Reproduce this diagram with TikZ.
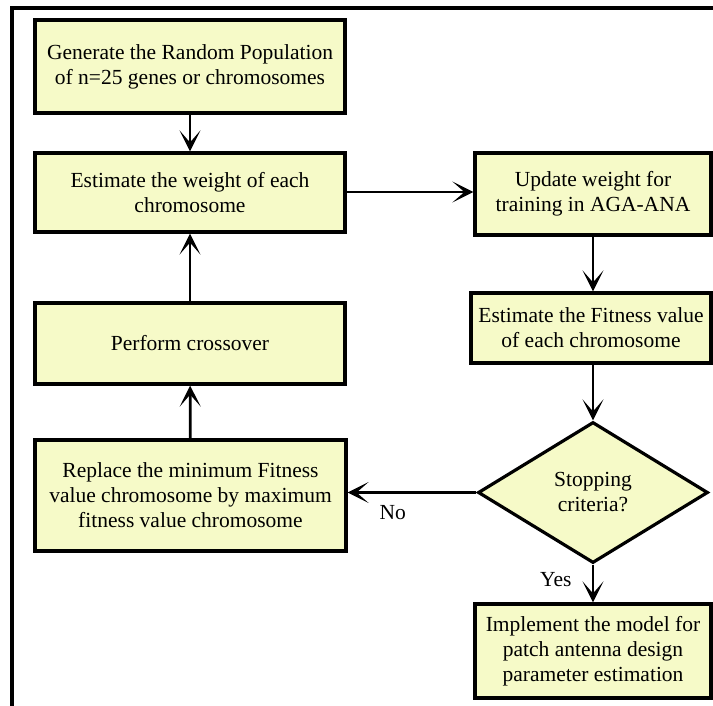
\documentclass[tikz,border=0pt]{standalone}
\usepackage{fontspec}
\setmainfont{Liberation Serif}
\usetikzlibrary{shapes.geometric,arrows.meta}
\definecolor{boxfill}{RGB}{246,250,200}

\begin{document}
\begin{tikzpicture}[x=1pt,y=-1pt,
	box/.style={draw=black,line width=3.2pt,fill=boxfill,inner sep=0pt,align=center,
		font=\fontsize{21.5}{25}\selectfont},
	decision/.style={diamond,draw=black,line width=3.2pt,fill=boxfill,inner sep=0pt,align=center,
		minimum width=230pt,minimum height=141pt,font=\fontsize{21.5}{25}\selectfont},
	arr/.style={line width=2.8pt,-{Stealth[length=21pt,width=21pt,inset=12pt]}}]
			\useasboundingbox (0,0) rectangle (713,705);
			% frame
			\draw[line width=3.2pt] (12,706) -- (12,8) -- (714,8);
			% nodes, left column
			\node[box,minimum width=310pt,minimum height=93pt] (gen) at (190,66.5)
				{Generate the Random Population\\of n=25 genes or chromosomes};
			\node[box,minimum width=310pt,minimum height=79pt] (weight) at (190,192.5)
				{Estimate the weight of each\\chromosome};
			\node[box,minimum width=310pt,minimum height=81pt] (cross) at (190,343.5)
				{Perform crossover};
			\node[box,minimum width=311pt,minimum height=111pt] (replace) at (190.5,495.5)
				{Replace the minimum Fitness\\value chromosome by maximum\\fitness value chromosome};
			% nodes, right column
			\node[box,minimum width=236pt,minimum height=82pt] (update) at (593,194)
				{Update weight for\\training in AGA-ANA};
			\node[box,minimum width=240pt,minimum height=70pt] (fitness) at (591,328)
				{Estimate the Fitness value\\of each chromosome};
			\node[decision] (stop) at (593,492.5) {Stopping\\criteria?};
			\node[box,minimum width=236pt,minimum height=94pt] (impl) at (593,651)
				{Implement the model for\\patch antenna design\\parameter estimation};
			% arrows
			\draw[arr] (gen) -- (weight);
			\draw[arr] (cross) -- (weight);
			\draw[arr] (replace) -- (cross);
			\draw[arr] (weight.east |- 0,192) -- (update.west |- 0,192);
			\draw[arr] (update.south -| stop) -- (stop |- fitness.north);
			\draw[arr] (stop |- fitness.south) -- (stop.north);
			\draw[arr] (stop.south) -- (impl.north);
			\draw[arr] (stop.west) -- (replace.east |- stop.west)
				node[pos=0.65,below=8pt,font=\fontsize{21.5}{25}\selectfont] (no) {No};
			\node[font=\fontsize{21.5}{25}\selectfont,anchor=east] (yes) at (575,580) {Yes};
		\end{tikzpicture}
\end{document}
